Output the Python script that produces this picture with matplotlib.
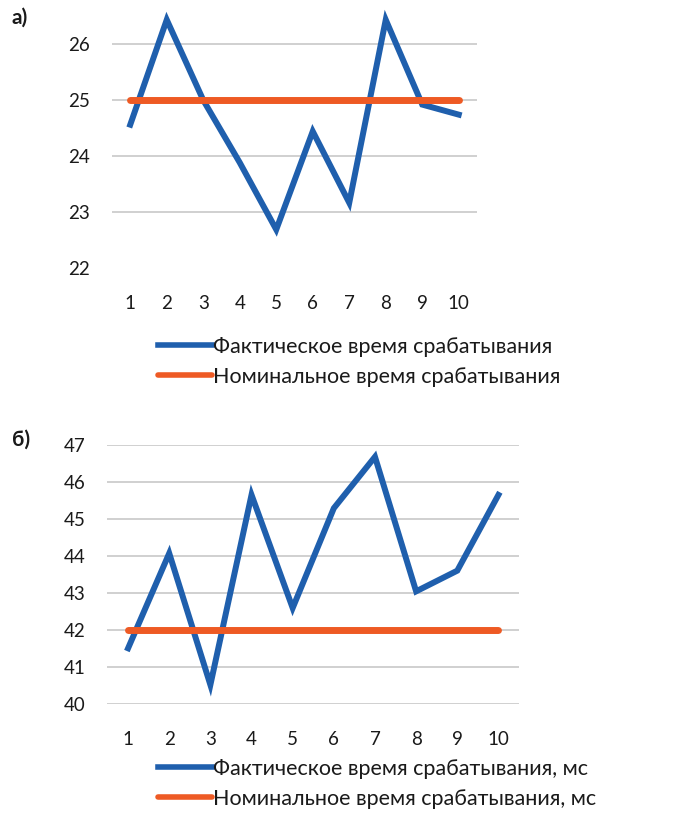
import matplotlib
matplotlib.use('Agg')
import matplotlib.pyplot as plt

# data
x = list(range(1, 11))
fact_a = [24.56, 26.44, 25.0, 23.88, 22.68, 24.44, 23.16, 26.44, 24.92, 24.74]
nom_a = [25] * 10
fact_b = [41.5, 44.07, 40.51, 45.65, 42.59, 45.29, 46.68, 43.04, 43.6, 45.65]
nom_b = [42] * 10

labels_a = ['Фактическое время срабатывания', 'Номинальное время срабатывания']
labels_b = ['Фактическое время срабатывания, мс', 'Номинальное время срабатывания, мс']

blue = '#1f5fad'
orange = '#ee5a24'
txt = '#1a1a1a'

plt.rcParams['font.family'] = ['Lato', 'DejaVu Sans']

W, H = 678, 830
fig = plt.figure(figsize=(W / 100, H / 100), dpi=100)


def px_axes(left, right, top, bottom):
    return fig.add_axes([left / W, 1 - bottom / H, (right - left) / W, (bottom - top) / H])


def style(ax, yticks):
    ax.set_xlim(0.5, 10.5)
    ax.set_xticks(x)
    ax.set_yticks(yticks)
    for s in ax.spines.values():
        s.set_visible(False)
    ax.tick_params(length=0, labelsize=13.5, colors=txt)
    ax.tick_params(axis='y', pad=16)
    ax.tick_params(axis='x', pad=20)
    ax.grid(axis='y', color='#c8c8c8', linewidth=1.2)
    ax.set_axisbelow(True)


def legend(ax, top):
    leg = ax.legend(loc='upper left', bbox_to_anchor=(158 / W, 1 - top / H), bbox_transform=fig.transFigure,
                    frameon=False, fontsize=15.5, handlelength=2.5, handletextpad=0.05, labelspacing=0.45,
                    borderaxespad=0, borderpad=0)
    for t in leg.get_texts():
        t.set_color(txt)
    for h in leg.get_lines():
        h.set_linewidth(4)


# chart a
ax1 = px_axes(112, 477, 2.5, 267.5)
ax1.plot(x, fact_a, color=blue, lw=4.3, solid_joinstyle='miter', label=labels_a[0])
ax1.plot(x, nom_a, color=orange, lw=5, solid_capstyle='round', label=labels_a[1])
ax1.set_ylim(22, 26.75)
style(ax1, [22, 23, 24, 25, 26])
legend(ax1, 337)

# chart b
ax2 = px_axes(107.5, 519, 445, 703.7)
ax2.plot(x, fact_b, color=blue, lw=4.3, solid_joinstyle='miter', label=labels_b[0])
ax2.plot(x, nom_b, color=orange, lw=5, solid_capstyle='round', label=labels_b[1])
ax2.set_ylim(40, 47)
style(ax2, [40, 41, 42, 43, 44, 45, 46, 47])
legend(ax2, 759)

fig.text(12 / W, 1 - 18 / H, 'а)', fontsize=15, fontweight='bold', va='center', color=txt)
fig.text(12 / W, 1 - 440 / H, 'б)', fontsize=15, fontweight='bold', va='center', color=txt)

fig.savefig('out.png', dpi=100)
